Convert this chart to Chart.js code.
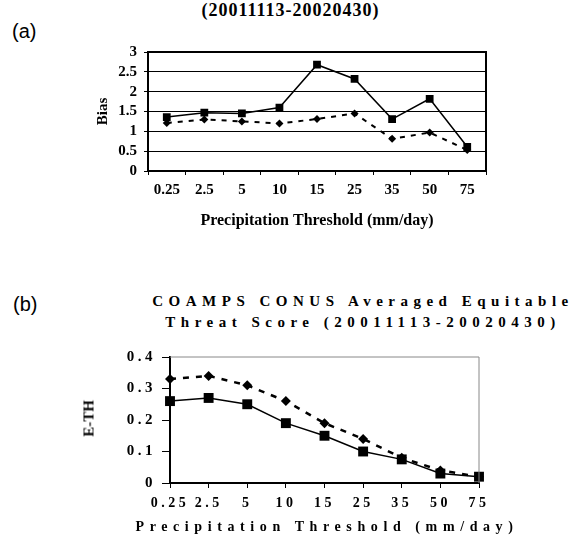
<!DOCTYPE html>
<html>
<head>
<meta charset="utf-8">
<script src="https://cdn.jsdelivr.net/npm/chart.js@4.4.1/dist/chart.umd.min.js"></script>
<style>
  html, body { margin: 0; padding: 0; background: #fff; }
  body { width: 581px; height: 543px; position: relative; overflow: hidden; font-family: "Liberation Serif", serif; }
  .panel { position: absolute; left: 0; width: 581px; }
  .tag { position: absolute; font-family: "Liberation Sans", Arial, sans-serif; font-size: 20px; }
  .title { position: absolute; font-weight: bold; text-align: center; white-space: nowrap; }
  .ytitle { position: absolute; font-weight: bold; font-size: 15px; transform: rotate(-90deg); transform-origin: center; width: 60px; text-align: center; }
</style>
</head>
<body>
<div class="title" style="left:0; width:581px; top:0px; font-size:18px; letter-spacing:1px;">(20011113-20020430)</div>
<div class="tag" style="left:12px; top:20px;">(a)</div>
<div class="panel" style="top:0; height:240px;"><canvas id="biasChart"></canvas></div>

<div class="tag" style="left:13px; top:293px;">(b)</div>
<div class="title" style="left:146px; width:434px; top:291px; font-size:15px; letter-spacing:5.5px; line-height:21px;">COAMPS CONUS Averaged Equitable<br>Threat Score (20011113-20020430)</div>
<div class="panel" style="top:260px; height:283px;"><canvas id="ethChart"></canvas></div>
<div class="ytitle" style="left:59px; top:410px;">E-TH</div>
<div class="title" style="left:127px; width:400px; top:519px; font-size:14px; letter-spacing:5.6px;">Precipitation Threshold (mm/day)</div>

<script>
// thresholds (mm/day)
const thresholds = ['0.25', '2.5', '5', '10', '15', '25', '35', '50', '75'];

// (a) bias
const biasSolid  = [1.36, 1.47, 1.45, 1.60, 2.68, 2.32, 1.31, 1.82, 0.61];
const biasDashed = [1.21, 1.30, 1.25, 1.20, 1.31, 1.45, 0.81, 0.97, 0.53];

// (b) equitable threat score
const ethSolid  = [0.26, 0.27, 0.25, 0.19, 0.15, 0.10, 0.075, 0.03, 0.02];
const ethDashed = [0.33, 0.34, 0.31, 0.26, 0.19, 0.14, 0.08, 0.04, 0.02];

const serif = '"Liberation Serif", "Times New Roman", serif';

// draws top + right edge of the plot box
const frame = (color, width) => ({
    id: 'frame',
    afterDatasetsDraw(chart) {
        const { ctx, chartArea: a } = chart;
        ctx.save();
        ctx.strokeStyle = color;
        ctx.lineWidth = width;
        ctx.beginPath();
        ctx.moveTo(a.left, a.top);
        ctx.lineTo(a.right, a.top);
        ctx.lineTo(a.right, a.bottom);
        ctx.stroke();
        ctx.restore();
    }
});

// spaced-out lettering used in panel (b)
const spacing = (px) => ({
    id: 'spacing',
    beforeLayout(chart) { chart.ctx.letterSpacing = px; },
    beforeDraw(chart) { chart.ctx.letterSpacing = px; }
});

function fixWidth(w) { return (scale) => { scale.width = w; }; }
function fixHeight(h) { return (scale) => { scale.height = h; }; }

new Chart(document.getElementById('biasChart'), {
    type: 'line',
    data: {
        labels: thresholds,
        datasets: [
            {
                data: biasSolid,
                borderColor: '#000',
                backgroundColor: '#000',
                borderWidth: 1.5,
                pointStyle: 'rect',
                pointRadius: 5.5,
                pointBorderWidth: 0,
                tension: 0
            },
            {
                data: biasDashed,
                borderColor: '#000',
                backgroundColor: '#000',
                borderWidth: 2,
                borderDash: [5, 6],
                pointStyle: 'rectRot',
                pointRadius: 4,
                pointBorderWidth: 0,
                tension: 0
            }
        ]
    },
    options: {
        responsive: true,
        maintainAspectRatio: false,
        animation: false,
        events: [],
        layout: { padding: { left: 88, right: 95, top: 52, bottom: 0 } },
        plugins: { legend: { display: false }, tooltip: { enabled: false } },
        scales: {
            x: {
                offset: true,
                afterFit: fixHeight(69),
                grid: { offset: true, drawOnChartArea: false, color: '#000', tickLength: 4 },
                border: { color: '#000', width: 2 },
                ticks: { color: '#000', padding: 6, maxRotation: 0, autoSkip: false, font: { family: serif, size: 15, weight: 'bold' } },
                title: {
                    display: true,
                    text: 'Precipitation Threshold (mm/day)',
                    color: '#000',
                    padding: { top: 0, bottom: 10 },
                    font: { family: serif, size: 16, weight: 'bold' }
                }
            },
            y: {
                min: 0,
                max: 3,
                afterFit: fixWidth(60),
                ticks: {
                    stepSize: 0.5,
                    autoSkip: false,
                    color: '#000',
                    padding: 7,
                    font: { family: serif, size: 15, weight: 'bold' },
                    callback: (v) => String(v)
                },
                grid: { color: '#000', lineWidth: 1, tickLength: 4 },
                border: { color: '#000', width: 2 },
                title: {
                    display: true,
                    text: 'Bias',
                    color: '#000',
                    padding: { top: 6, bottom: 0 },
                    font: { family: serif, size: 15, weight: 'bold' }
                }
            }
        }
    },
    plugins: [frame('#000', 2)]
});

new Chart(document.getElementById('ethChart'), {
    type: 'line',
    data: {
        labels: thresholds,
        datasets: [
            {
                data: ethSolid,
                borderColor: '#000',
                backgroundColor: '#000',
                borderWidth: 1.5,
                pointStyle: 'rect',
                pointRadius: 7,
                pointBorderWidth: 0,
                tension: 0
            },
            {
                data: ethDashed,
                borderColor: '#000',
                backgroundColor: '#000',
                borderWidth: 2.5,
                borderDash: [6, 7],
                pointStyle: 'rectRot',
                pointRadius: 5,
                pointBorderWidth: 0,
                tension: 0
            }
        ]
    },
    options: {
        responsive: true,
        maintainAspectRatio: false,
        animation: false,
        events: [],
        layout: { padding: { left: 100, right: 102, top: 97, bottom: 0 } },
        plugins: { legend: { display: false }, tooltip: { enabled: false } },
        scales: {
            x: {
                offset: false,
                afterFit: fixHeight(60),
                grid: { drawOnChartArea: false, color: '#000', tickLength: 5 },
                border: { color: '#000', width: 2 },
                ticks: { color: '#000', padding: 7, maxRotation: 0, autoSkip: false, font: { family: serif, size: 14, weight: 'bold' } }
            },
            y: {
                min: 0,
                max: 0.4,
                afterFit: fixWidth(70),
                ticks: {
                    stepSize: 0.1,
                    color: '#000',
                    padding: 6,
                    font: { family: serif, size: 15, weight: 'bold' },
                    callback: (v) => v === 0 ? '0' : v.toFixed(1)
                },
                grid: { drawOnChartArea: false, color: '#000', tickLength: 8 },
                border: { color: '#000', width: 2 }
            }
        }
    },
    plugins: [frame('#888', 1), spacing('3.5px')]
});
</script>
</body>
</html>
